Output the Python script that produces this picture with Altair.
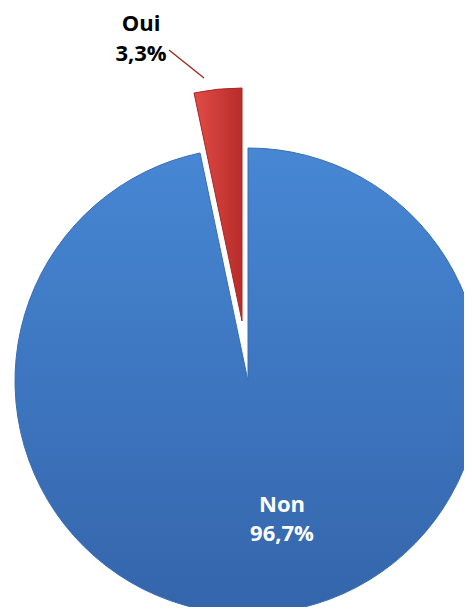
import altair as alt
import pandas as pd

categories = ["Non", "Oui"]
values = [96.7, 3.3]
pct_labels = ["96,7%", "3,3%"]
order = [0, 1]

df = pd.DataFrame({"cat": categories, "val": values, "pct": pct_labels, "ord": order})

W, H = 456, 599
CX, CY, R = 240, 373, 233
EX, EY = 234, 313  # exploded slice centre

base = alt.Chart(df).encode(
    theta=alt.Theta("val:Q", stack=True),
    order=alt.Order("ord:Q"),
)

blue_grad = alt.LinearGradient(
    gradient="linear", x1=0, y1=0, x2=0, y2=1,
    stops=[alt.GradientStop(offset=0, color="#4787D4"),
           alt.GradientStop(offset=1, color="#3465AB")],
)
red_grad = alt.LinearGradient(
    gradient="linear", x1=0, y1=0, x2=1, y2=0,
    stops=[alt.GradientStop(offset=0, color="#E24C46"),
           alt.GradientStop(offset=1, color="#B82C2A")],
)

non_arc = base.mark_arc(outerRadius=R, fill=blue_grad, stroke="#3A6DB3", strokeWidth=1).encode(
    x=alt.value(CX), y=alt.value(CY),
    opacity=alt.condition(alt.datum.cat == "Non", alt.value(1), alt.value(0)),
)
oui_arc = base.mark_arc(outerRadius=R, fill=red_grad, stroke="#A52826", strokeWidth=1).encode(
    x=alt.value(EX), y=alt.value(EY),
    opacity=alt.condition(alt.datum.cat == "Oui", alt.value(1), alt.value(0)),
)

txt = dict(font="Open Sans", fontWeight="bold", fontSize=22, align="center", baseline="middle")

non_df = df[df.cat == "Non"]
oui_df = df[df.cat == "Oui"]

non_name = alt.Chart(non_df).mark_text(color="white", **txt).encode(
    text="cat:N", x=alt.value(274), y=alt.value(497))
non_pct = alt.Chart(non_df).mark_text(color="white", **txt).encode(
    text="pct:N", x=alt.value(274), y=alt.value(526))
oui_name = alt.Chart(oui_df).mark_text(color="black", **txt).encode(
    text="cat:N", x=alt.value(133), y=alt.value(16))
oui_pct = alt.Chart(oui_df).mark_text(color="black", **txt).encode(
    text="pct:N", x=alt.value(133), y=alt.value(46))
leader = alt.Chart(oui_df).mark_rule(color="#9B2A28", strokeWidth=1.5).encode(
    x=alt.value(161), y=alt.value(42), x2=alt.value(196), y2=alt.value(70))

chart = alt.layer(non_arc, oui_arc, leader, non_name, non_pct, oui_name, oui_pct).properties(
    width=W, height=H, autosize=alt.AutoSizeParams(type="none"), padding=0
).configure_view(stroke=None)

chart.save("out.html", embed_options={"renderer": "svg", "actions": False})
